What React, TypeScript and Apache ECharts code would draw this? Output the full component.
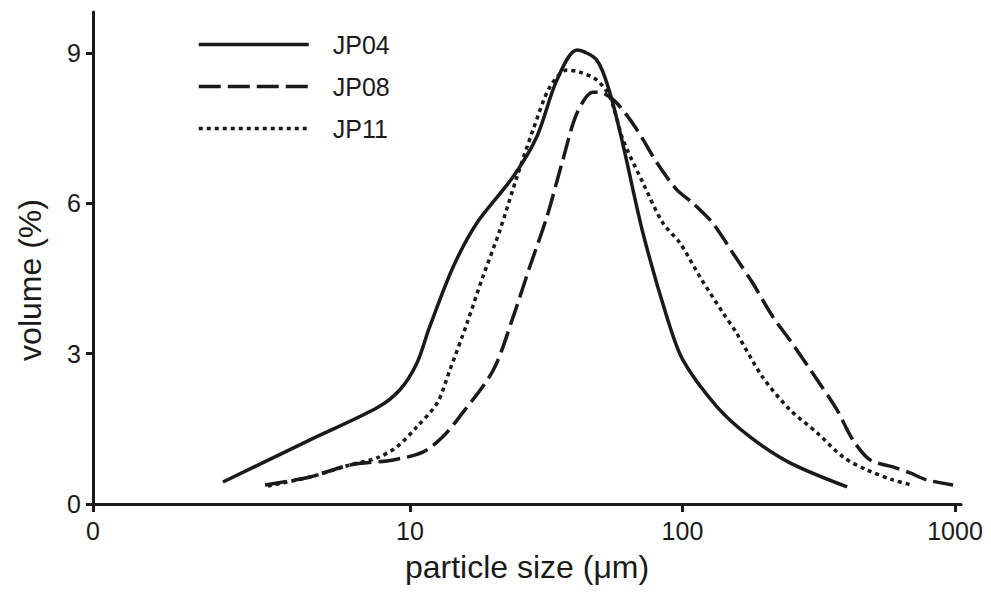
import React, { useEffect, useRef } from "react";
import * as echarts from "echarts";

// particle size (µm) and volume (%)
const jp04Size = [2.06, 4.3, 7.57, 9.19, 10.6, 11.8, 14.4, 17.6, 23.9, 29.2, 34.6, 41.0, 48.5, 54.2, 60.5, 71.6, 87.7, 100.4, 133.9, 177, 248, 402];
const jp04Vol = [0.44, 1.28, 1.92, 2.28, 2.81, 3.53, 4.73, 5.61, 6.53, 7.33, 8.46, 9.06, 8.86, 8.2, 7.17, 5.41, 3.73, 2.87, 1.94, 1.34, 0.82, 0.34];

const jp08Size = [2.94, 4.3, 6.03, 8.67, 11.2, 13.2, 15.2, 20.2, 23.9, 27.5, 31.8, 36.4, 41.0, 46.9, 51.1, 57.5, 68.1, 80.6, 95.4, 109, 129, 153, 181, 215, 248, 312, 369, 422, 488, 592, 684, 789, 984];
const jp08Vol = [0.38, 0.54, 0.78, 0.88, 1.04, 1.34, 1.74, 2.67, 3.73, 4.73, 5.73, 6.87, 7.8, 8.22, 8.2, 8.0, 7.47, 6.81, 6.27, 6.01, 5.61, 5.01, 4.41, 3.73, 3.27, 2.48, 1.88, 1.28, 0.88, 0.74, 0.62, 0.48, 0.38];

const jp11Size = [3.01, 4.3, 6.03, 7.57, 8.96, 10.6, 12.6, 14.0, 16.2, 18.5, 21.4, 24.7, 28.3, 32.6, 37.7, 42.0, 48.5, 54.2, 60.5, 71.6, 84.7, 97.9, 116, 141, 158, 197, 248, 312, 388, 475, 592, 695];
const jp11Vol = [0.36, 0.54, 0.78, 0.92, 1.14, 1.54, 2.02, 2.67, 3.61, 4.53, 5.47, 6.53, 7.47, 8.32, 8.66, 8.62, 8.46, 8.12, 7.27, 6.41, 5.61, 5.21, 4.53, 3.81, 3.41, 2.53, 1.88, 1.42, 0.94, 0.68, 0.48, 0.38];

const seriesNames = ["JP04", "JP08", "JP11"];
const xTickSizes = [0.687, 10, 100, 1000];
const xTickLabels = ["0", "10", "100", "1000"];
const yTicks = [0, 3, 6, 9];

const FONT = "Liberation Sans, Arial, Helvetica, sans-serif";
const INK = "#1a1a1a";

const toPoints = (sizes: number[], vols: number[]) =>
  sizes.map((s, i) => [Math.log10(s), vols[i]]);

export default function App() {
  const ref = useRef<HTMLDivElement>(null);

  useEffect(() => {
    document.body.style.margin = "0";
    if (!ref.current) return;
    const chart = echarts.init(ref.current, undefined, { renderer: "svg" });
    const xMin = Math.log10(0.687);
    const xMax = Math.log10(1052);
    const xTickVals = xTickSizes.map((s) => Math.log10(s));
    const fmtX = (v: number) => {
      let best = 0;
      xTickVals.forEach((t, i) => {
        if (Math.abs(t - v) < Math.abs(xTickVals[best] - v)) best = i;
      });
      return xTickLabels[best];
    };
    const lineBase = { width: 3.5, color: INK, cap: "butt" as const };
    chart.setOption({
      animation: false,
      backgroundColor: "#ffffff",
      grid: { left: 93, right: 30, top: 12, bottom: 88, containLabel: false },
      legend: {
        orient: "vertical",
        left: 197,
        top: 32,
        padding: 0,
        itemWidth: 110,
        itemHeight: 18,
        itemGap: 17,
        itemStyle: { opacity: 0, borderWidth: 0 },
        lineStyle: { width: 3.5 },
        data: seriesNames,
        textStyle: {
          fontFamily: FONT,
          fontSize: 25,
          color: INK,
          padding: [2, 0, 2, 19],
        },
      },
      xAxis: {
        type: "value",
        min: xMin,
        max: xMax,
        name: "particle size (μm)",
        nameLocation: "middle",
        nameGap: 47,
        nameTextStyle: { fontFamily: FONT, fontSize: 32, color: INK },
        axisLine: { onZero: false, lineStyle: { color: INK, width: 3 } },
        axisTick: { show: true, length: 8, lineStyle: { color: INK, width: 3 }, customValues: xTickVals },
        axisLabel: {
          customValues: xTickVals,
          formatter: fmtX,
          margin: 14,
          fontFamily: FONT,
          fontSize: 25,
          color: INK,
        },
        splitLine: { show: false },
      },
      yAxis: {
        type: "value",
        min: 0,
        max: 9.82,
        axisLine: { show: true, onZero: false, lineStyle: { color: INK, width: 3 } },
        axisTick: { show: true, length: 7, lineStyle: { color: INK, width: 3 }, customValues: yTicks },
        axisLabel: {
          customValues: yTicks,
          margin: 12,
          fontFamily: FONT,
          fontSize: 25,
          color: INK,
        },
        splitLine: { show: false },
      },
      graphic: [
        {
          type: "text",
          x: 30,
          y: 280,
          rotation: Math.PI / 2,
          style: {
            text: "volume (%)",
            fontFamily: FONT,
            fontSize: 32,
            fill: INK,
            textAlign: "center",
            textVerticalAlign: "middle",
          },
        },
      ],
      series: [
        {
          name: seriesNames[0],
          type: "line",
          showSymbol: false,
          symbol: "none",
          smooth: 0.3,
          lineStyle: { ...lineBase, type: "solid" },
          itemStyle: { color: INK },
          data: toPoints(jp04Size, jp04Vol),
        },
        {
          name: seriesNames[1],
          type: "line",
          showSymbol: false,
          symbol: "none",
          smooth: 0.3,
          lineStyle: { ...lineBase, type: [22, 7] },
          itemStyle: { color: INK },
          data: toPoints(jp08Size, jp08Vol),
        },
        {
          name: seriesNames[2],
          type: "line",
          showSymbol: false,
          symbol: "none",
          smooth: 0.3,
          lineStyle: { ...lineBase, type: [4, 4] },
          itemStyle: { color: INK },
          data: toPoints(jp11Size, jp11Vol),
        },
      ],
    });
    return () => chart.dispose();
  }, []);

  return (
    <div
      ref={ref}
      style={{ position: "fixed", left: 0, top: 0, width: 991, height: 592, background: "#fff" }}
    />
  );
}
